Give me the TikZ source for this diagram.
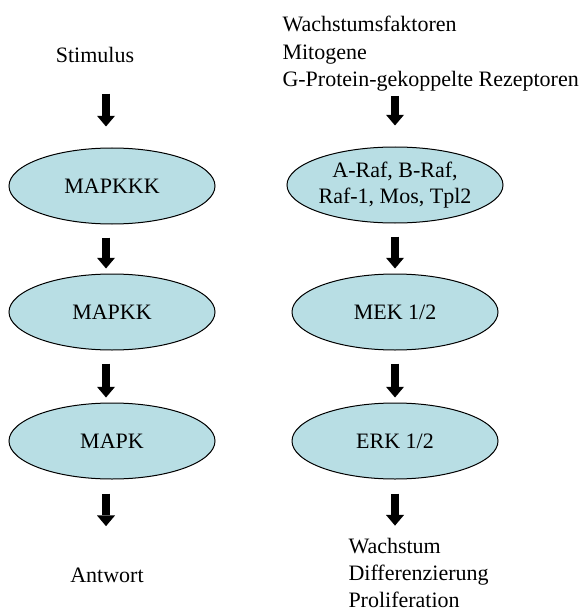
\documentclass[tikz,border=0pt]{standalone}
\usepackage{fontspec}
\setmainfont{Liberation Serif}
\usetikzlibrary{shapes.geometric,arrows.meta}
\definecolor{kinaseblue}{RGB}{184,222,228}
\tikzset{every picture/.style={line width=0.75pt}}
\tikzset{
  kinase/.style={ellipse, draw=black, fill=kinaseblue, minimum width=154.5pt, minimum height=57pt, inner sep=0pt, align=center, font=\fontsize{16.5}{19.5}\selectfont},
  plain/.style={inner sep=0.75pt, align=left, font=\fontsize{16.5}{20.6}\selectfont},
  fatarrow/.style={line width=6pt, -{Triangle[width=13.5pt,length=8pt,line width=0pt]}}
}

\begin{document}
\begin{tikzpicture}[x=0.75pt,y=0.75pt,yscale=-1,xscale=1]
    \useasboundingbox (0,0) rectangle (579,613);

    % columns of the arrows
    \coordinate (lcol) at (106,0);
    \coordinate (rcol) at (395,0);

    % Left: general cascade
    \node [plain] (stimulus) at (95,55) {Stimulus};
    \node [kinase] (mapkkk) at (112,186) {MAPKKK};
    \node [kinase] (mapkk) at (112,312) {MAPKK};
    \node [kinase] (mapk) at (112,441) {MAPK};
    \node [plain] (antwort) at (107,575) {Antwort};

    % Right: ERK pathway
    \node [plain, anchor=west] (signals) at (281,54) {Wachstumsfaktoren\\Mitogene\\G-Protein-gekoppelte Rezeptoren};
    \node [kinase] (raf) at (395,185) {A-Raf, B-Raf,\\Raf-1, Mos, Tpl2};
    \node [kinase] (mek) at (395,312) {MEK 1/2};
    \node [kinase] (erk) at (395,441) {ERK 1/2};
    \node [plain, anchor=west] (effects) at (347,573) {Wachstum\\Differenzierung\\Proliferation};

    % Arrows left
    \draw [fatarrow, shorten <=22pt, shorten >=15.75pt] (stimulus.south -| lcol) -- (mapkkk.north -| lcol);
    \draw [fatarrow, shorten <=9.75pt, shorten >=3.75pt] (mapkkk.south -| lcol) -- (mapkk.north -| lcol);
    \draw [fatarrow, shorten <=9.75pt, shorten >=3.75pt] (mapkk.south -| lcol) -- (mapk.north -| lcol);
    \draw [fatarrow, shorten <=10.5pt, shorten >=30pt] (mapk.south -| lcol) -- (antwort.north -| lcol);

    % Arrows right
    \draw [fatarrow, shorten <=2pt, shorten >=15.75pt] (signals.south -| rcol) -- (raf.north);
    \draw [fatarrow, shorten <=9.75pt, shorten >=3.75pt] (raf.south) -- (mek.north);
    \draw [fatarrow, shorten <=9.75pt, shorten >=3.75pt] (mek.south) -- (erk.north);
    \draw [fatarrow, shorten <=10.5pt, shorten >=8pt] (erk.south) -- (effects.north -| rcol);

\end{tikzpicture}
\end{document}
